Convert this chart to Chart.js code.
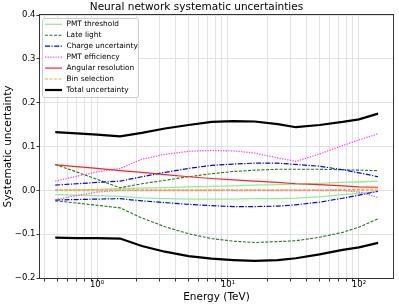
<!DOCTYPE html>
<html>
<head>
<meta charset="utf-8">
<script src="https://cdn.jsdelivr.net/npm/chart.js@4.4.0/dist/chart.umd.min.js"></script>
<style>
  html, body { margin: 0; padding: 0; background: #fff; }
  #wrap { width: 399px; height: 307px; }
</style>
</head>
<body>
<div id="wrap"><canvas id="chart" width="399" height="307"></canvas></div>
<script>
// values
const energy = [0.48, 0.7, 1.0, 1.5, 2.2, 3.3, 5, 7.5, 11, 16, 24, 33, 50, 75, 100, 140];

const thresholdUp   = [0.000, 0.001, 0.002, 0.004, 0.005, 0.006, 0.008, 0.009, 0.010, 0.012, 0.013, 0.014, 0.016, 0.018, 0.019, 0.021];
const thresholdDown = [-0.010, -0.011, -0.012, -0.014, -0.017, -0.019, -0.020, -0.020, -0.020, -0.019, -0.019, -0.018, -0.015, -0.010, -0.007, -0.003];

const lateUp   = [0.059, 0.042, 0.025, 0.006, 0.015, 0.023, 0.031, 0.038, 0.043, 0.046, 0.048, 0.048, 0.048, 0.047, 0.046, 0.045];
const lateDown = [-0.024, -0.029, -0.034, -0.040, -0.063, -0.083, -0.099, -0.110, -0.116, -0.119, -0.117, -0.115, -0.107, -0.096, -0.084, -0.065];

const chargeUp   = [0.012, 0.015, 0.018, 0.021, 0.031, 0.041, 0.050, 0.057, 0.060, 0.062, 0.062, 0.059, 0.055, 0.047, 0.040, 0.031];
const chargeDown = [-0.022, -0.021, -0.020, -0.019, -0.024, -0.028, -0.032, -0.035, -0.037, -0.037, -0.036, -0.033, -0.027, -0.018, -0.011, -0.002];

const pmtUp   = [0.021, 0.032, 0.042, 0.050, 0.071, 0.082, 0.089, 0.091, 0.090, 0.085, 0.074, 0.066, 0.083, 0.102, 0.115, 0.129];
const pmtDown = [-0.021, -0.012, -0.004, 0.000, 0.000, 0.000, 0.000, 0.000, 0.000, 0.000, 0.000, 0.000, 0.000, 0.000, -0.004, -0.016];

const angularUp = [0.058, 0.054, 0.050, 0.045, 0.041, 0.036, 0.031, 0.027, 0.024, 0.021, 0.018, 0.015, 0.013, 0.010, 0.008, 0.007];

const binUp   = [0.001, 0.001, 0.001, 0.001, 0.001, 0.001, 0.001, 0.001, 0.001, 0.001, 0.001, 0.001, 0.001, 0.002, 0.002, 0.003];
const binDown = [-0.001, -0.001, -0.001, -0.001, -0.001, -0.001, -0.001, -0.001, -0.001, -0.001, -0.001, -0.001, -0.001, -0.001, -0.001, -0.001];

const totalUp   = [0.133, 0.130, 0.127, 0.123, 0.131, 0.141, 0.149, 0.156, 0.158, 0.157, 0.151, 0.144, 0.149, 0.156, 0.162, 0.175];
const totalDown = [-0.108, -0.109, -0.109, -0.110, -0.127, -0.140, -0.150, -0.156, -0.159, -0.161, -0.159, -0.155, -0.146, -0.136, -0.130, -0.120];

const seriesNames = ["PMT threshold", "Late light", "Charge uncertainty", "PMT efficiency", "Angular resolution", "Bin selection", "Total uncertainty"];
const upperSeries = [thresholdUp, lateUp, chargeUp, pmtUp, angularUp, binUp, totalUp];
const lowerSeries = [thresholdDown, lateDown, chargeDown, pmtDown, null, binDown, totalDown];

const xGrid = [0.4, 0.5, 0.6, 0.7, 0.8, 0.9, 1, 2, 3, 4, 5, 6, 7, 8, 9, 10, 20, 30, 40, 50, 60, 70, 80, 90, 100];
const xTickLabels = {1: "10\u2070", 10: "10\u00b9", 100: "10\u00b2"};
const yTicks = [-0.2, -0.1, 0.0, 0.1, 0.2, 0.3, 0.4];

const chartTitle = "Neural network systematic uncertainties";

// line looks, matplotlib-like
const styles = [
    {color: "#90ee90", dash: [], width: 1.3},
    {color: "#1f7a1f", dash: [3, 1.5], width: 1.1},
    {color: "#0000ff", dash: [5, 1.5, 1.2, 1.5], width: 1.2},
    {color: "#ff44ff", dash: [1.3, 1.3], width: 1.3},
    {color: "#ff2222", dash: [], width: 1.2},
    {color: "#ffa040", dash: [3, 1.5], width: 1.1},
    {color: "#000000", dash: [], width: 2.2}
];

Chart.defaults.font.family = "'DejaVu Sans', sans-serif";
Chart.defaults.color = "#000";

const toPoints = (arr) => energy.map((e, k) => ({x: e, y: arr[k]}));

const datasets = [];
seriesNames.forEach((name, i) => {
    const st = styles[i];
    const base = {
        borderColor: st.color,
        borderWidth: st.width,
        borderDash: st.dash,
        pointRadius: 0,
        fill: false,
        tension: 0,
        order: seriesNames.length - i
    };
    datasets.push(Object.assign({label: name, inLegend: true, data: toPoints(upperSeries[i])}, base));
    if (lowerSeries[i]) {
        datasets.push(Object.assign({label: name, inLegend: false, data: toPoints(lowerSeries[i])}, base));
    }
});

const fmtY = (v) => (v < -1e-9 ? "\u2212" : "") + Math.abs(v).toFixed(1);

// black box around the plot like matplotlib spines
const framePlugin = {
    id: "frame",
    afterDatasetsDraw(chart) {
        const {ctx, chartArea: a} = chart;
        ctx.save();
        ctx.strokeStyle = "#333";
        ctx.lineWidth = 1;
        ctx.strokeRect(Math.round(a.left) - 0.5, Math.round(a.top) - 0.5,
            Math.round(a.right - a.left) + 1, Math.round(a.bottom - a.top) + 1);
        ctx.restore();
    }
};

// legend in the upper left corner inside the plot
const innerLegend = {
    id: "innerLegend",
    afterDatasetsDraw(chart) {
        const {ctx, chartArea: a} = chart;
        const x0 = a.left + 2, y0 = a.top + 3, w = 96, h = 79;
        ctx.save();
        ctx.fillStyle = "rgba(255,255,255,0.9)";
        ctx.strokeStyle = "#cccccc";
        ctx.lineWidth = 1;
        ctx.beginPath();
        ctx.roundRect(x0 + 0.5, y0 + 0.5, w, h, 2);
        ctx.fill();
        ctx.stroke();
        ctx.font = "7.4px 'DejaVu Sans'";
        ctx.textBaseline = "middle";
        chart.data.datasets.filter(d => d.inLegend).forEach((d, i) => {
            const yy = y0 + 6.3 + i * 10.95;
            ctx.strokeStyle = d.borderColor;
            ctx.lineWidth = d.borderWidth;
            ctx.setLineDash(d.borderDash);
            ctx.beginPath();
            ctx.moveTo(a.left + 5, yy);
            ctx.lineTo(a.left + 22, yy);
            ctx.stroke();
            ctx.setLineDash([]);
            ctx.fillStyle = "#000";
            ctx.fillText(d.label, a.left + 26.5, yy);
        });
        ctx.restore();
    }
};

const ctx = document.getElementById("chart").getContext("2d");
new Chart(ctx, {
    type: "line",
    data: {datasets: datasets},
    plugins: [framePlugin, innerLegend],
    options: {
        responsive: false,
        animation: false,
        devicePixelRatio: 1,
        layout: {padding: {left: 0, right: 6, top: 0, bottom: 0}},
        plugins: {
            legend: {display: false},
            tooltip: {enabled: false},
            title: {
                display: true,
                text: chartTitle,
                color: "#000",
                font: {size: 10.5, weight: "normal"},
                padding: {top: 1.4, bottom: 1}
            }
        },
        scales: {
            x: {
                type: "logarithmic",
                min: 0.367,
                max: 182,
                afterBuildTicks: (s) => { s.ticks = xGrid.map(v => ({value: v})); },
                afterFit: (s) => { s.height = 29; },
                ticks: {
                    autoSkip: false,
                    maxRotation: 0,
                    padding: -2,
                    font: {size: 8.5},
                    callback: (v) => xTickLabels[v] || ""
                },
                grid: {color: "#e2e2e2", lineWidth: 1, tickLength: 3.5, tickColor: "#333"},
                border: {display: false},
                title: {display: true, text: "Energy (TeV)", font: {size: 10.5}, padding: {top: 0, bottom: 3}}
            },
            y: {
                type: "linear",
                min: -0.2,
                max: 0.4,
                afterBuildTicks: (s) => { s.ticks = yTicks.map(v => ({value: v})); },
                afterFit: (s) => { s.width = 40; },
                ticks: {
                    padding: 1,
                    font: {size: 8.5},
                    callback: (v) => fmtY(v)
                },
                grid: {color: "#e2e2e2", lineWidth: 1, tickLength: 3.5, tickColor: "#333"},
                border: {display: false},
                title: {display: true, text: "Systematic uncertainty", font: {size: 10.5}, padding: {top: 2, bottom: 0}}
            }
        }
    }
});
</script>
</body>
</html>
